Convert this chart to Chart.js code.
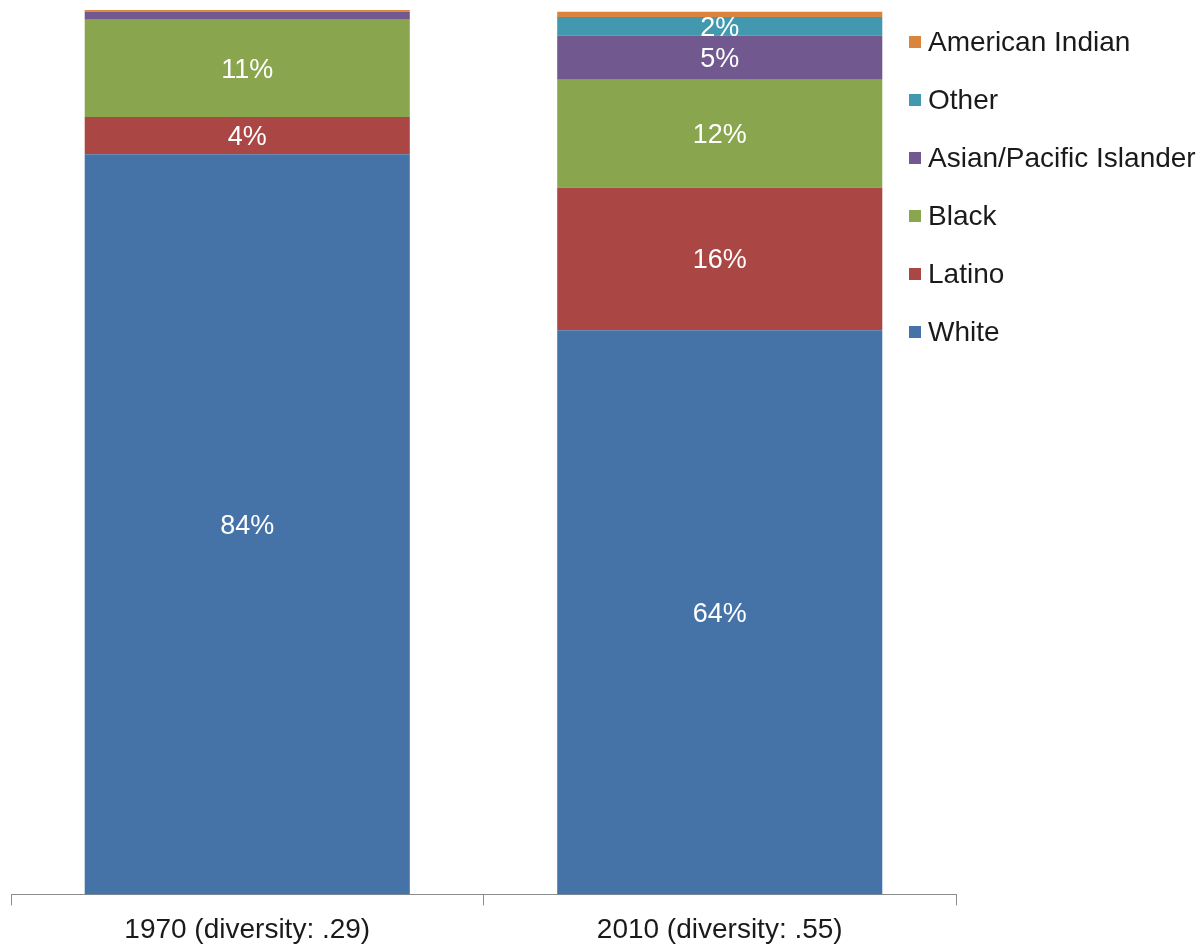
<!DOCTYPE html>
<html>
<head>
<meta charset="utf-8">
<title>Population by race</title>
<script src="https://cdn.jsdelivr.net/npm/chart.js@4/dist/chart.umd.min.js"></script>
<style>
    html, body { margin: 0; padding: 0; background: #fff; }
    #wrap { width: 1203px; height: 947px; position: relative; }
</style>
</head>
<body>
<div id="wrap"><canvas id="races"></canvas></div>
<script>
'use strict';

// years on the x axis
var categories = [ '1970 (diversity: .29)', '2010 (diversity: .55)' ];

// share of population per group, in percent (bottom of the stack first)
var groups = [ 'White', 'Latino', 'Black', 'Asian/Pacific Islander', 'Other', 'American Indian' ];
var white = [ 83.7, 63.8 ];
var latino = [ 4.2, 16.1 ];
var black = [ 11.0, 12.2 ];
var asian = [ 0.9, 5.0 ];
var other = [ 0.0, 2.1 ];
var americanIndian = [ 0.2, 0.6 ];

var colors = [ '#4572A7', '#AA4643', '#89A54E', '#71588F', '#4198AF', '#DB843D' ];

var FONT = '"Liberation Sans", Arial, sans-serif';

var series = [ white, latino, black, asian, other, americanIndian ];
var datasets = [];
for( var i = 0; i < groups.length; i++ ) {
    datasets.push({
        label: groups[ i ],
        data: series[ i ],
        backgroundColor: colors[ i ],
        borderWidth: 0,
        barPercentage: 0.688,
        categoryPercentage: 1,
    });
}

// white percentage labels in the middle of each segment
var segmentLabels = {
    id: 'segmentLabels',
    afterDatasetsDraw: function( chart ) {
        var ctx = chart.ctx;
        ctx.save();
        ctx.font = '27px ' + FONT;
        ctx.fillStyle = '#ffffff';
        ctx.textAlign = 'center';
        ctx.textBaseline = 'middle';
        chart.data.datasets.forEach( function( ds, i ) {
            var meta = chart.getDatasetMeta( i );
            meta.data.forEach( function( bar, j ) {
                var value = ds.data[ j ];
                if( value < 2 ) return;
                ctx.fillText( Math.round( value ) + '%', bar.x, ( bar.y + bar.base ) / 2 + 2 );
            });
        });
        ctx.restore();
    }
};

// legend drawn on the right, top group first
var sideLegend = {
    id: 'sideLegend',
    afterDraw: function( chart ) {
        var ctx = chart.ctx;
        var sets = chart.data.datasets;
        ctx.save();
        ctx.font = '28px ' + FONT;
        ctx.textBaseline = 'middle';
        ctx.textAlign = 'left';
        for( var k = 0; k < sets.length; k++ ) {
            var ds = sets[ sets.length - 1 - k ];
            var y = 42 + k * 58;
            ctx.fillStyle = ds.backgroundColor;
            ctx.fillRect( 909, y - 6, 12, 12 );
            ctx.fillStyle = '#1a1a1a';
            ctx.fillText( ds.label, 928, y + 1 );
        }
        ctx.restore();
    }
};

var chart = new Chart( document.getElementById( 'races' ), {
    type: 'bar',
    data: {
        labels: categories,
        datasets: datasets,
    },
    options: {
        responsive: true,
        maintainAspectRatio: false,
        animation: false,
        layout: {
            padding: { left: 11, right: 247, top: 10, bottom: -8 }
        },
        plugins: {
            legend: { display: false },
            tooltip: { enabled: false },
        },
        scales: {
            x: {
                stacked: true,
                grid: {
                    drawOnChartArea: false,
                    drawTicks: true,
                    tickLength: 11,
                    color: '#8c8c8c',
                },
                border: { color: '#8c8c8c', width: 1 },
                ticks: {
                    color: '#1a1a1a',
                    padding: 8,
                    font: { family: FONT, size: 28 },
                    maxRotation: 0,
                },
            },
            y: {
                stacked: true,
                display: false,
                min: 0,
                max: 100,
            },
        },
    },
    plugins: [ segmentLabels, sideLegend ],
});
</script>
</body>
</html>
